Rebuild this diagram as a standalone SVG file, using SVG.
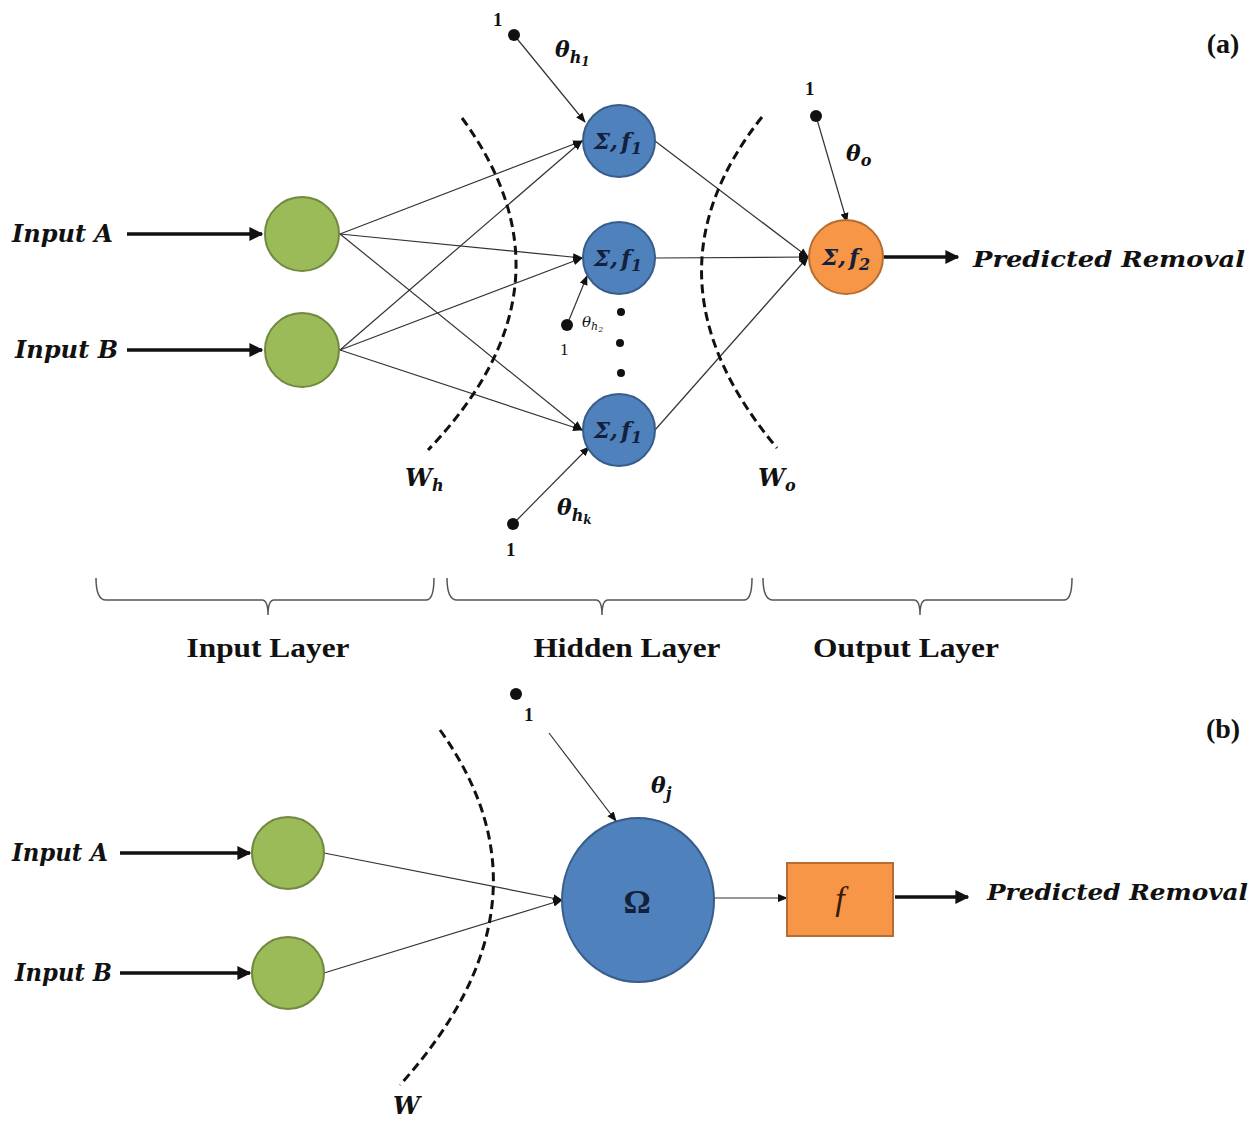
<svg xmlns="http://www.w3.org/2000/svg" width="1257" height="1121" viewBox="0 0 1257 1121">
<defs>
<marker id="thin" viewBox="0 0 10 10" refX="9" refY="5" markerWidth="10" markerHeight="10" markerUnits="userSpaceOnUse" orient="auto"><path d="M0,1 L10,5 L0,9 z" fill="#111"/></marker>
<marker id="thick" viewBox="0 0 10 10" refX="9" refY="5" markerWidth="4" markerHeight="4" orient="auto"><path d="M0,0 L10,5 L0,10 z" fill="#111"/></marker>
</defs>
<style>
.in{fill:#9BBB59;stroke:#71893F;stroke-width:2}
.hid{fill:#4F81BD;stroke:#385D8A;stroke-width:2}
.out{fill:#F79646;stroke:#B66D31;stroke-width:2}
.ln{stroke:#333;stroke-width:1.2;fill:none}
.tk{stroke:#111;stroke-width:3.5;fill:none}
.arc{stroke:#111;stroke-width:3;fill:none;stroke-dasharray:9 5}
.br{stroke:#555;stroke-width:1.5;fill:none}
.it{font-family:"DejaVu Serif","Liberation Serif",serif;font-style:italic;font-weight:bold;fill:#111}
.lab{font-family:"Liberation Serif",serif;font-weight:bold;font-size:28px;fill:#111;text-anchor:middle}
.nt{font-family:"DejaVu Serif","Liberation Serif",serif;font-style:italic;font-weight:bold;font-size:23px;fill:#14213d;text-anchor:middle}
.one{font-family:"Liberation Serif",serif;font-weight:bold;font-size:19px;fill:#111}
.dot{fill:#111}
</style>

<g id="connectors">
<line class="tk" x1="127" y1="234" x2="262" y2="234" marker-end="url(#thick)"/>
<line class="tk" x1="127" y1="350" x2="262" y2="350" marker-end="url(#thick)"/>
<line class="ln" x1="340" y1="234" x2="582" y2="141" marker-end="url(#thin)"/>
<line class="ln" x1="340" y1="234" x2="582" y2="258" marker-end="url(#thin)"/>
<line class="ln" x1="340" y1="234" x2="582" y2="430" marker-end="url(#thin)"/>
<line class="ln" x1="340" y1="350" x2="582" y2="141" marker-end="url(#thin)"/>
<line class="ln" x1="340" y1="350" x2="582" y2="258" marker-end="url(#thin)"/>
<line class="ln" x1="340" y1="350" x2="582" y2="430" marker-end="url(#thin)"/>
<line class="ln" x1="655" y1="141" x2="808" y2="257" marker-end="url(#thin)"/>
<line class="ln" x1="655" y1="258" x2="808" y2="257" marker-end="url(#thin)"/>
<line class="ln" x1="655" y1="430" x2="808" y2="257" marker-end="url(#thin)"/>
<line class="tk" x1="884" y1="257" x2="958" y2="257" marker-end="url(#thick)"/>
<line class="ln" x1="514" y1="35" x2="585" y2="122" marker-end="url(#thin)"/>
<line class="ln" x1="567" y1="325" x2="587" y2="276" marker-end="url(#thin)"/>
<line class="ln" x1="513" y1="524" x2="589" y2="447" marker-end="url(#thin)"/>
<line class="ln" x1="816" y1="116" x2="847" y2="222" marker-end="url(#thin)"/>
<line class="tk" x1="120" y1="853" x2="250" y2="853" marker-end="url(#thick)"/>
<line class="tk" x1="120" y1="973" x2="250" y2="973" marker-end="url(#thick)"/>
<line class="ln" x1="324" y1="853" x2="562" y2="900" marker-end="url(#thin)"/>
<line class="ln" x1="324" y1="973" x2="562" y2="900" marker-end="url(#thin)"/>
<line class="ln" x1="549" y1="733" x2="616" y2="821" marker-end="url(#thin)"/>
<line class="ln" x1="714" y1="898" x2="787" y2="898" marker-end="url(#thin)"/>
<line class="tk" x1="895" y1="897" x2="968" y2="897" marker-end="url(#thick)"/>
</g>

<g id="weights">
<path class="arc" d="M462,118 Q585,286 428,450"/>
<path class="arc" d="M762,117 Q634,278 777,448"/>
<path class="arc" d="M440,730 Q564,903 400,1085"/>
<text class="it" x="405" y="486" font-size="24">W<tspan font-size="16" dy="5">h</tspan></text>
<text class="it" x="758" y="486" font-size="24">W<tspan font-size="16" dy="5">o</tspan></text>
<text class="it" x="393" y="1114" font-size="24">W</text>
</g>

<g id="inputA">
<circle class="in" cx="302" cy="234" r="37"/>
<text class="it" x="12" y="242" font-size="24" textLength="101" lengthAdjust="spacingAndGlyphs">Input A</text>
</g>
<g id="inputB">
<circle class="in" cx="302" cy="350" r="37"/>
<text class="it" x="15" y="358" font-size="24" textLength="103" lengthAdjust="spacingAndGlyphs">Input B</text>
</g>

<g id="hidden1">
<circle class="hid" cx="619" cy="141" r="36"/>
<text class="nt" x="618" y="149">Σ,<tspan dx="3">f</tspan><tspan font-size="16" dy="5">1</tspan></text>
</g>
<g id="hidden2">
<circle class="hid" cx="619" cy="258" r="36"/>
<text class="nt" x="618" y="266">Σ,<tspan dx="3">f</tspan><tspan font-size="16" dy="5">1</tspan></text>
</g>
<g id="hiddenk">
<circle class="hid" cx="619" cy="430" r="36"/>
<text class="nt" x="618" y="438">Σ,<tspan dx="3">f</tspan><tspan font-size="16" dy="5">1</tspan></text>
</g>
<g id="ellipsis">
<circle class="dot" cx="621" cy="312" r="4"/>
<circle class="dot" cx="620" cy="343" r="4"/>
<circle class="dot" cx="621" cy="373" r="4"/>
</g>

<g id="output">
<circle class="out" cx="846" cy="257" r="37"/>
<text class="nt" x="846" y="265" fill="#2a1505">Σ,<tspan dx="3">f</tspan><tspan font-size="16" dy="5">2</tspan></text>
<text class="it" x="973" y="267" font-size="23" textLength="272" lengthAdjust="spacingAndGlyphs">Predicted  Removal</text>
</g>

<g id="bias_h1">
<circle class="dot" cx="514" cy="35" r="6"/>
<text class="one" x="493" y="26">1</text>
<text class="it" x="555" y="57" font-size="22">θ<tspan font-size="16" dy="6">h</tspan><tspan font-size="12" dy="3">1</tspan></text>
</g>
<g id="bias_h2">
<circle class="dot" cx="567" cy="325" r="6"/>
<text x="560" y="355" font-family="Liberation Serif,serif" font-size="17" fill="#111">1</text>
<text x="582" y="327" font-family="DejaVu Serif,serif" font-style="italic" font-size="15" fill="#111">θ<tspan font-size="11" dy="3">h</tspan><tspan font-size="8" dy="2">2</tspan></text>
</g>
<g id="bias_hk">
<circle class="dot" cx="513" cy="524" r="6"/>
<text class="one" x="506" y="556">1</text>
<text class="it" x="557" y="515" font-size="22">θ<tspan font-size="16" dy="6">h</tspan><tspan font-size="12" dy="3">k</tspan></text>
</g>
<g id="bias_o">
<circle class="dot" cx="816" cy="116" r="6"/>
<text class="one" x="805" y="95">1</text>
<text class="it" x="846" y="161" font-size="22">θ<tspan font-size="16" dy="5">o</tspan></text>
</g>

<g id="braces">
<path class="br" d="M96,578 Q96,600 106,600 L262,600 Q268,600 268,615 Q268,600 274,600 L426,600 Q434,600 434,578"/>
<path class="br" d="M447,578 Q447,600 457,600 L596,600 Q602,600 602,615 Q602,600 608,600 L744,600 Q752,600 752,578"/>
<path class="br" d="M763,578 Q763,600 773,600 L914,600 Q920,600 920,615 Q920,600 926,600 L1064,600 Q1072,600 1072,578"/>
<text class="lab" x="268" y="657" textLength="163" lengthAdjust="spacingAndGlyphs">Input Layer</text>
<text class="lab" x="627" y="657" textLength="187" lengthAdjust="spacingAndGlyphs">Hidden Layer</text>
<text class="lab" x="906" y="657" textLength="186" lengthAdjust="spacingAndGlyphs">Output Layer</text>
</g>

<g id="panel_labels">
<text class="lab" x="1223" y="53" font-size="31">(a)</text>
<text class="lab" x="1223" y="738" font-size="31">(b)</text>
</g>

<g id="b_inputA">
<circle class="in" cx="288" cy="853" r="36"/>
<text class="it" x="12" y="861" font-size="24" textLength="96" lengthAdjust="spacingAndGlyphs">Input A</text>
</g>
<g id="b_inputB">
<circle class="in" cx="288" cy="973" r="36"/>
<text class="it" x="15" y="981" font-size="24" textLength="97" lengthAdjust="spacingAndGlyphs">Input B</text>
</g>
<g id="b_bias">
<circle class="dot" cx="516" cy="694" r="6"/>
<text class="one" x="524" y="721">1</text>
<text class="it" x="651" y="793" font-size="22">θ<tspan font-size="16" dy="6">j</tspan></text>
</g>
<g id="omega">
<ellipse class="hid" cx="638" cy="900" rx="76" ry="82"/>
<text x="637" y="913" font-family="Liberation Serif,serif" font-weight="bold" font-size="34" fill="#14213d" text-anchor="middle">Ω</text>
</g>
<g id="f_box">
<rect class="out" x="787" y="863" width="106" height="73"/>
<text x="840" y="910" font-family="Liberation Serif,serif" font-style="italic" font-size="34" fill="#3a1a0a" text-anchor="middle">f</text>
</g>
<g id="b_output">
<text class="it" x="987" y="900" font-size="23" textLength="261" lengthAdjust="spacingAndGlyphs">Predicted  Removal</text>
</g>
</svg>
